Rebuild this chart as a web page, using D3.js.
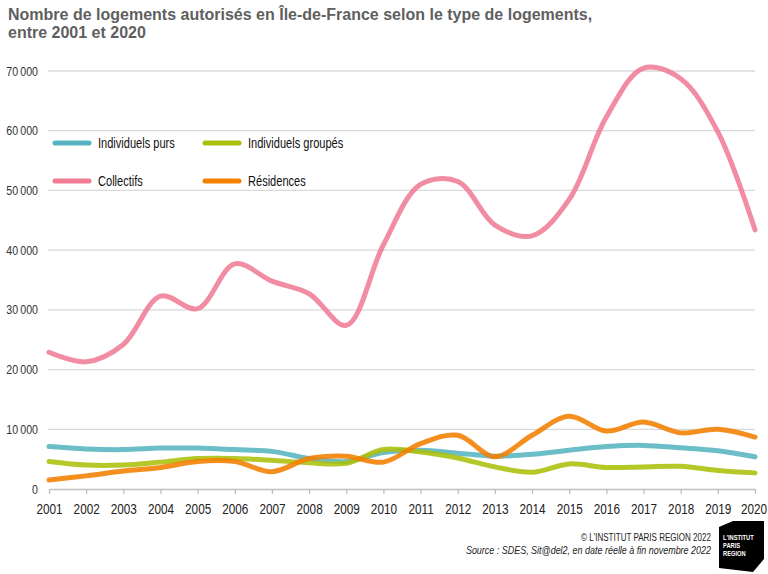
<!DOCTYPE html>
<html><head><meta charset="utf-8">
<script src="https://cdn.jsdelivr.net/npm/d3@7"></script>
<style>
body{margin:0;background:#fff;}
svg{display:block;}
text{font-family:"Liberation Sans",Arial,sans-serif;}
</style></head>
<body>
<svg id="chart" width="768" height="574"></svg>
<script>
const years = [2001,2002,2003,2004,2005,2006,2007,2008,2009,2010,2011,2012,2013,2014,2015,2016,2017,2018,2019,2020];
const individuelsPurs = [7100,6700,6600,6850,6850,6600,6300,5100,4600,6100,6500,6000,5500,5800,6500,7100,7300,6900,6400,5400];
const individuelsGroupes = [4600,4000,4000,4500,5100,5100,4800,4400,4300,6600,6200,5200,3700,2800,4200,3600,3700,3800,3100,2700];
const collectifs = [22900,21300,24200,32300,30200,37700,34800,32700,27400,40900,51000,51500,44200,42400,48500,62300,70500,68700,59800,43400];
const residences = [1500,2200,3000,3600,4600,4600,2900,5100,5500,4500,7600,9000,5400,9000,12200,9700,11200,9400,10000,8700];
const yTicks = [0,10000,20000,30000,40000,50000,60000,70000];
const seriesNames = ["Individuels purs","Individuels groupés","Collectifs","Résidences"];
const seriesColors = ["#56b4c0","#acbf0a","#f07c95","#f38000"];
const seriesData = [individuelsPurs, individuelsGroupes, collectifs, residences];

const svg = d3.select("#chart");
const x = d3.scaleLinear().domain([2001,2020]).range([49,755]);
const y = d3.scaleLinear().domain([0,70000]).range([489,71]);

// condensed text helper: places text at (tx,ty) with horizontal squeeze
function ctext(g, tx, ty, s, str){
  return g.append("text").attr("transform",`translate(${tx},${ty}) scale(${s},1)`).text(str);
}

// title
const title = svg.append("g").attr("fill","#5f5f5f").style("font-weight","bold").style("font-size","16px");
title.append("text").attr("x",8).attr("y",20)
  .text("Nombre de logements autorisés en Île-de-France selon le type de logements,");
title.append("text").attr("x",8).attr("y",38).text("entre 2001 et 2020");

// gridlines
svg.append("g").selectAll("line").data(yTicks.filter(d=>d>0)).join("line")
  .attr("x1",48).attr("x2",755).attr("y1",d=>y(d)).attr("y2",d=>y(d))
  .attr("stroke","#d9d9d9").attr("stroke-width",1.3);

// y labels
const fmt = d => d===0 ? "0" : d3.format(",")(d).replace(",", "\u2009");
const yl = svg.append("g").attr("fill","#333").style("font-size","13px").attr("text-anchor","end");
yTicks.forEach(d=>{
  ctext(yl, 38, y(d)+4.5, 0.82, fmt(d));
});

// x axis
const xAxis = d3.axisBottom(x).tickValues(years).tickFormat(d3.format("d")).tickSize(5).tickSizeOuter(0);
const xg = svg.append("g").attr("transform","translate(0,489)").call(xAxis);
xg.select(".domain").attr("stroke","#bfbfbf").attr("stroke-width",1.5);
xg.selectAll(".tick line").attr("stroke","#bfbfbf").attr("stroke-width",1.3);
xg.selectAll(".tick text").attr("fill","#222").style("font-size","14.5px")
  .style("font-family","'Liberation Sans',Arial,sans-serif")
  .attr("y",null).attr("dy",null)
  .attr("transform",d=>`translate(${d===2020?-1.5:0},25) scale(0.81,1)`);

// lines
const line = d3.line().x((d,i)=>x(years[i])).y(d=>y(d)).curve(d3.curveCatmullRom.alpha(0.5));
const drawOrder = [0,1,3,2];
svg.append("g").selectAll("path").data(drawOrder).join("path")
  .attr("d",i=>line(seriesData[i])).attr("fill","none")
  .attr("stroke",i=>seriesColors[i]).attr("stroke-width",5)
  .attr("stroke-linecap","round").attr("stroke-linejoin","round").attr("opacity",0.88);

// legend
const legPos = [[55,143],[205,143],[55,181],[205,181]];
const leg = svg.append("g");
seriesNames.forEach((n,i)=>{
  const [lx,ly] = legPos[i];
  leg.append("line").attr("x1",lx).attr("x2",lx+34).attr("y1",ly).attr("y2",ly)
    .attr("stroke",seriesColors[i]).attr("stroke-width",5).attr("stroke-linecap","round");
  ctext(leg, lx+43, ly+5, 0.79, n).attr("fill","#111").style("font-size","14px");
});

// footer
const foot = svg.append("g").attr("fill","#222").attr("text-anchor","end").style("font-size","11.5px");
ctext(foot, 711, 541, 0.7, "© L'INSTITUT PARIS REGION 2022");
ctext(foot, 711, 554, 0.78, "Source : SDES, Sit@del2, en date réelle à fin novembre 2022").style("font-style","italic");

// logo
svg.append("path").attr("d","M719,527 L733,521 L764,521 L764,559 L753,572 L719,568 Z").attr("fill","#000");
const lg = svg.append("g").attr("fill","#fff").style("font-size","8px").style("font-weight","bold");
ctext(lg, 723, 540, 0.72, "L'INSTITUT");
ctext(lg, 723, 548, 0.72, "PARIS");
ctext(lg, 723, 556, 0.72, "REGION");
</script>
</body></html>
